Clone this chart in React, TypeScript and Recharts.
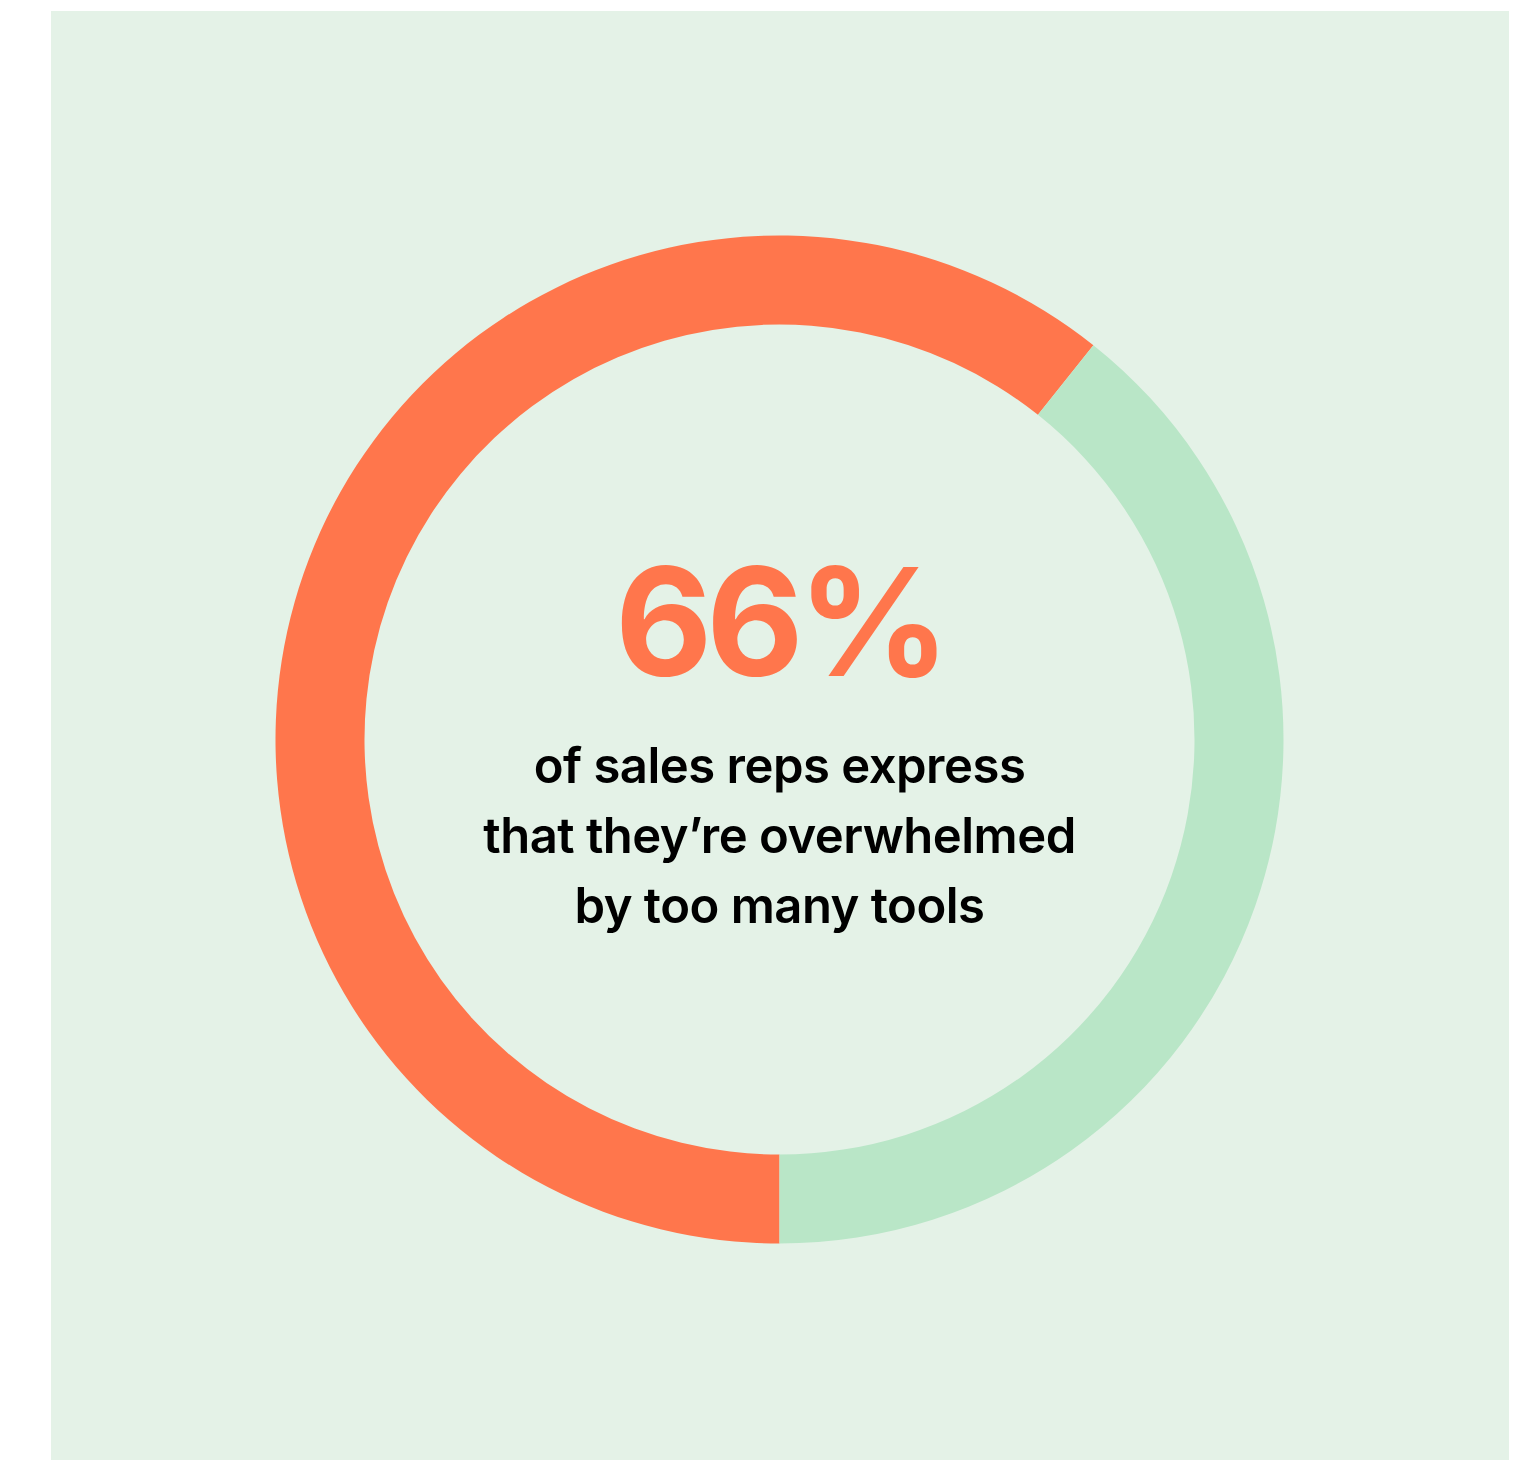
import React from 'react';
import { PieChart, Pie, Cell, Label } from 'recharts';

const segmentNames = ['Overwhelmed', 'Not overwhelmed'];
const segmentValues = [60.7, 39.3];
const segmentColors = ['#FF764C', '#B9E6C7'];

const headline = '66%';
const captionLines = ['of sales reps express', 'that they’re overwhelmed', 'by too many tools'];

const data = segmentNames.map((name, i) => ({ name, value: segmentValues[i] }));

const CX = 728.5;
const CY = 728.5;

const CenterText = () => (
  <g fontFamily="Inter, 'Noto Sans', sans-serif">
    <text
      x={CX}
      y={CY - 64}
      textAnchor="middle"
      fill="#FF764C"
      fontSize={150}
      fontWeight={700}
      letterSpacing={-6}
    >
      {headline}
    </text>
    {captionLines.map((line, i) => (
      <text
        key={line}
        x={CX}
        y={CY + 43 + i * 70}
        textAnchor="middle"
        fill="#000000"
        fontSize={49}
        fontWeight={600}
        letterSpacing={-0.5}
      >
        {line}
      </text>
    ))}
  </g>
);

export default function App() {
  return (
    <div style={{ position: 'absolute', left: 0, top: 0, width: 1532, height: 1460, background: '#ffffff' }}>
      <div style={{ position: 'absolute', left: 51, top: 11, width: 1458, height: 1449, background: '#E4F2E7' }}>
        <PieChart width={1458} height={1449} margin={{ top: 0, right: 0, bottom: 0, left: 0 }}>
          <Pie
            data={data}
            dataKey="value"
            nameKey="name"
            cx={CX}
            cy={CY}
            innerRadius={415}
            outerRadius={504}
            startAngle={-90}
            endAngle={-450}
            stroke="none"
            isAnimationActive={false}
          >
            {data.map((d, i) => (
              <Cell key={d.name} fill={segmentColors[i]} />
            ))}
            <Label position="center" content={<CenterText />} />
          </Pie>
        </PieChart>
      </div>
    </div>
  );
}
